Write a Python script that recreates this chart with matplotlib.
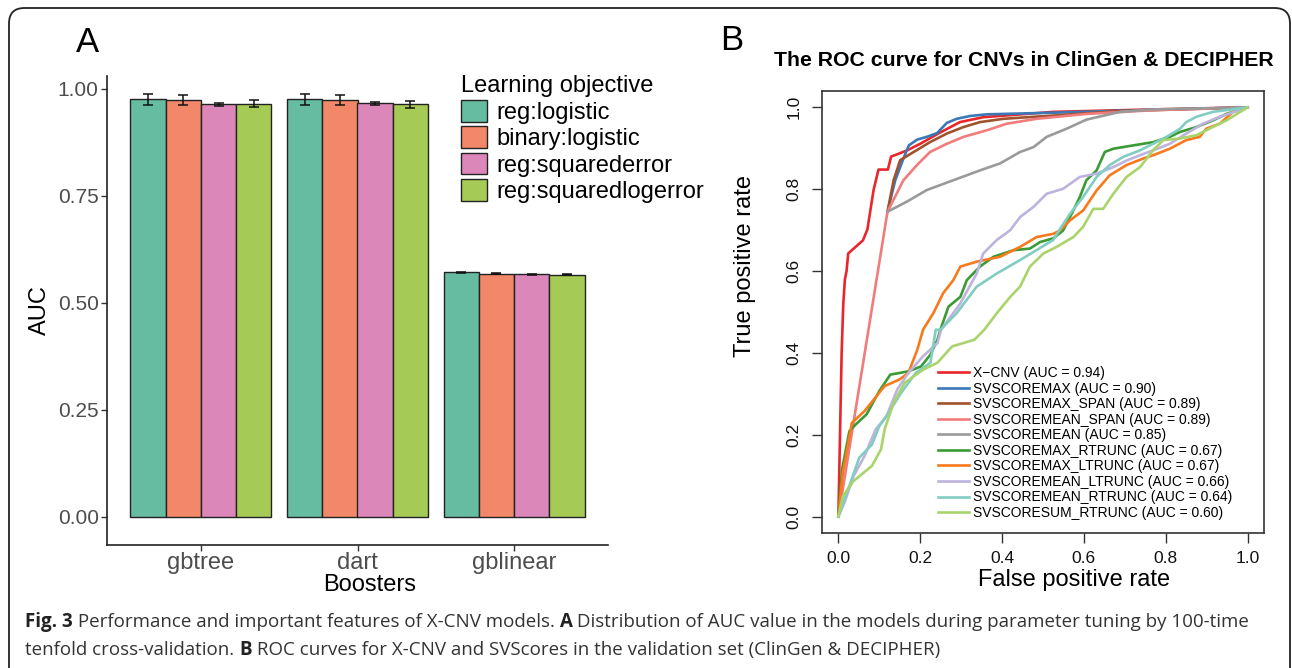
import matplotlib
matplotlib.use("Agg")
import matplotlib.pyplot as plt
import numpy as np
from matplotlib.patches import FancyBboxPatch

W, H = 1292, 668

# ---- panel A data ----
boosters = ["gbtree", "dart", "gblinear"]
objectives = ["reg:logistic", "binary:logistic", "reg:squarederror", "reg:squaredlogerror"]
auc_mean = {
    "reg:logistic":        [0.976, 0.976, 0.572],
    "binary:logistic":     [0.974, 0.974, 0.568],
    "reg:squarederror":    [0.964, 0.966, 0.567],
    "reg:squaredlogerror": [0.965, 0.964, 0.566],
}
auc_err = {
    "reg:logistic":        [0.013, 0.013, 0.001],
    "binary:logistic":     [0.012, 0.012, 0.001],
    "reg:squarederror":    [0.004, 0.003, 0.001],
    "reg:squaredlogerror": [0.008, 0.008, 0.001],
}
obj_colors = ["#66bca1", "#f2876a", "#dc87b9", "#a6ca56"]

# ---- panel B data ----
roc_names = ["X\u2212CNV", "SVSCOREMAX", "SVSCOREMAX_SPAN", "SVSCOREMEAN_SPAN",
             "SVSCOREMEAN", "SVSCOREMAX_RTRUNC", "SVSCOREMAX_LTRUNC",
             "SVSCOREMEAN_LTRUNC", "SVSCOREMEAN_RTRUNC", "SVSCORESUM_RTRUNC"]
roc_auc = ["0.94", "0.90", "0.89", "0.89", "0.85", "0.67", "0.67", "0.66", "0.64", "0.60"]
roc_colors = ["#e8262b", "#3a78b8", "#a0522d", "#f27b7b", "#9a9a9a",
              "#3a9b34", "#f87a1c", "#bdb3de", "#82ccc2", "#a9d46c"]

fpr_xcnv = [0, 0.004, 0.008, 0.012, 0.016, 0.02, 0.024, 0.06, 0.071, 0.086, 0.098, 0.121,
            0.129, 0.143, 0.168, 0.2, 0.244, 0.297, 0.354, 0.525, 0.769, 1.0]
tpr_xcnv = [0, 0.2, 0.4, 0.52, 0.58, 0.6, 0.643, 0.675, 0.702, 0.798, 0.848, 0.848,
            0.88, 0.885, 0.895, 0.911, 0.936, 0.964, 0.976, 0.989, 0.995, 1.0]

fpr_max = [0.12, 0.139, 0.159, 0.172, 0.192, 0.216, 0.241, 0.265, 0.289, 0.322, 0.363, 0.525, 0.769, 1.0]
tpr_max = [0.745, 0.822, 0.875, 0.907, 0.921, 0.928, 0.937, 0.962, 0.972, 0.979, 0.983, 0.987, 0.994, 1.0]

fpr_max_span = [0.12, 0.135, 0.151, 0.184, 0.224, 0.265, 0.306, 0.346, 0.403, 0.525, 0.688, 1.0]
tpr_max_span = [0.745, 0.822, 0.871, 0.891, 0.915, 0.936, 0.952, 0.964, 0.972, 0.980, 0.991, 1.0]

fpr_mean_span = [0, 0.12, 0.159, 0.192, 0.224, 0.265, 0.306, 0.363, 0.411, 0.484, 0.606, 0.769, 1.0]
tpr_mean_span = [0, 0.745, 0.822, 0.859, 0.891, 0.911, 0.928, 0.944, 0.960, 0.972, 0.984, 0.993, 1.0]

fpr_mean = [0.12, 0.168, 0.216, 0.281, 0.346, 0.395, 0.444, 0.477, 0.509, 0.558, 0.606, 0.688, 0.769, 1.0]
tpr_mean = [0.745, 0.770, 0.798, 0.822, 0.846, 0.863, 0.891, 0.903, 0.928, 0.948, 0.970, 0.989, 0.995, 1.0]

fpr_max_rt = [0, 0.009, 0.027, 0.042, 0.069, 0.10, 0.127, 0.171, 0.202, 0.225, 0.242, 0.249,
              0.269, 0.298, 0.314, 0.346, 0.379, 0.428, 0.468, 0.493, 0.525, 0.549, 0.574,
              0.590, 0.606, 0.631, 0.651, 0.672, 0.720, 0.769, 0.810, 0.835, 0.875, 0.915, 0.948, 1.0]
tpr_max_rt = [0, 0.115, 0.209, 0.225, 0.25, 0.307, 0.347, 0.355, 0.367, 0.396, 0.432, 0.456,
              0.513, 0.537, 0.578, 0.611, 0.635, 0.651, 0.655, 0.671, 0.680, 0.699, 0.748,
              0.781, 0.822, 0.846, 0.891, 0.899, 0.907, 0.915, 0.928, 0.940, 0.952, 0.968, 0.984, 1.0]

fpr_max_lt = [0, 0.011, 0.033, 0.064, 0.113, 0.149, 0.171, 0.193, 0.207, 0.232, 0.256, 0.281,
              0.298, 0.338, 0.395, 0.444, 0.484, 0.525, 0.541, 0.566, 0.598, 0.631, 0.663,
              0.704, 0.745, 0.769, 0.810, 0.850, 0.883, 0.899, 0.932, 0.964, 1.0]
tpr_max_lt = [0, 0.107, 0.229, 0.258, 0.319, 0.335, 0.351, 0.408, 0.457, 0.497, 0.546, 0.578,
              0.611, 0.623, 0.635, 0.659, 0.683, 0.691, 0.699, 0.724, 0.748, 0.797, 0.834,
              0.859, 0.875, 0.883, 0.899, 0.920, 0.928, 0.948, 0.960, 0.989, 1.0]

fpr_mean_lt = [0, 0.015, 0.037, 0.064, 0.091, 0.118, 0.144, 0.171, 0.207, 0.242, 0.251, 0.298,
               0.338, 0.354, 0.387, 0.420, 0.444, 0.477, 0.509, 0.549, 0.590, 0.631, 0.672,
               0.704, 0.737, 0.769, 0.810, 0.850, 0.891, 0.932, 1.0]
tpr_mean_lt = [0, 0.034, 0.099, 0.148, 0.213, 0.246, 0.311, 0.351, 0.392, 0.424, 0.457, 0.521,
               0.594, 0.643, 0.676, 0.700, 0.732, 0.757, 0.789, 0.801, 0.830, 0.838, 0.854,
               0.870, 0.883, 0.895, 0.911, 0.936, 0.960, 0.977, 1.0]

fpr_mean_rt = [0, 0.024, 0.051, 0.082, 0.10, 0.118, 0.153, 0.189, 0.225, 0.238, 0.249, 0.289,
               0.338, 0.387, 0.444, 0.484, 0.525, 0.545, 0.566, 0.598, 0.631, 0.663, 0.696,
               0.737, 0.769, 0.802, 0.835, 0.850, 0.875, 0.915, 1.0]
tpr_mean_rt = [0, 0.067, 0.144, 0.176, 0.221, 0.246, 0.302, 0.351, 0.376, 0.457, 0.456, 0.497,
               0.562, 0.594, 0.627, 0.651, 0.676, 0.708, 0.740, 0.781, 0.830, 0.859, 0.879,
               0.895, 0.911, 0.928, 0.948, 0.964, 0.977, 0.989, 1.0]

fpr_sum_rt = [0, 0.011, 0.037, 0.082, 0.104, 0.113, 0.135, 0.162, 0.207, 0.242, 0.278, 0.332,
              0.356, 0.387, 0.420, 0.444, 0.468, 0.501, 0.533, 0.574, 0.598, 0.623, 0.647,
              0.672, 0.704, 0.737, 0.769, 0.794, 0.835, 0.875, 0.915, 0.948, 1.0]
tpr_sum_rt = [0, 0.05, 0.087, 0.124, 0.164, 0.213, 0.278, 0.327, 0.359, 0.376, 0.416, 0.432,
              0.456, 0.497, 0.537, 0.562, 0.611, 0.643, 0.659, 0.683, 0.708, 0.752, 0.752,
              0.789, 0.830, 0.854, 0.895, 0.920, 0.924, 0.932, 0.952, 0.968, 1.0]

roc_fpr = [fpr_xcnv, fpr_max, fpr_max_span, fpr_mean_span, fpr_mean,
           fpr_max_rt, fpr_max_lt, fpr_mean_lt, fpr_mean_rt, fpr_sum_rt]
roc_tpr = [tpr_xcnv, tpr_max, tpr_max_span, tpr_mean_span, tpr_mean,
           tpr_max_rt, tpr_max_lt, tpr_mean_lt, tpr_mean_rt, tpr_sum_rt]

SANS = ["Liberation Sans", "DejaVu Sans"]
plt.rcParams["font.family"] = SANS


def fx(x):
    return x / W


def fy(y):
    return 1 - y / H


fig = plt.figure(figsize=(W / 100, H / 100), dpi=100)

# rounded frame around the figure
frame = FancyBboxPatch((fx(9), fy(690)), fx(1290) - fx(9), fy(8) - fy(690),
                       boxstyle="round,pad=0,rounding_size=0.012",
                       transform=fig.transFigure, fill=False,
                       edgecolor="#222222", linewidth=1.3, mutation_aspect=W / H)
fig.patches.append(frame)

# ---------------- panel A ----------------
axA = fig.add_axes([fx(107), fy(545), fx(608) - fx(107), fy(76) - fy(545)])
x = np.arange(1, len(boosters) + 1)
bw = 0.9 / len(objectives)
for i, (obj, col) in enumerate(zip(objectives, obj_colors)):
    pos = x - 0.45 + bw * (i + 0.5)
    axA.bar(pos, auc_mean[obj], width=bw, color=col, edgecolor="#222222",
            linewidth=1.0, label=obj, zorder=2)
    axA.errorbar(pos, auc_mean[obj], yerr=auc_err[obj], fmt="none",
                 ecolor="#111111", elinewidth=1.1, capsize=3.5, capthick=1.1, zorder=3)

axA.set_xlim(0.4, 3.6)
axA.set_ylim(-0.0654, 1.03)
axA.set_yticks([0, 0.25, 0.5, 0.75, 1.0])
axA.set_yticklabels(["0.00", "0.25", "0.50", "0.75", "1.00"])
axA.set_xticks(x)
axA.set_xticklabels(boosters)
for s in ["top", "right"]:
    axA.spines[s].set_visible(False)
for s in ["left", "bottom"]:
    axA.spines[s].set_color("#222222")
    axA.spines[s].set_linewidth(1.2)
axA.tick_params(axis="both", colors="#333333", labelcolor="#4d4d4d",
                labelsize=15, length=4, width=1.0, pad=2)
axA.tick_params(axis="x", labelsize=17, pad=1)
axA.set_ylabel("AUC", fontsize=17, labelpad=5)
fig.text(fx(370), fy(585), "Boosters", fontsize=17, ha="center", va="center")

leg = axA.legend(title="Learning objective", loc="upper left",
                 bbox_to_anchor=(fx(452), fy(66)), bbox_transform=fig.transFigure,
                 frameon=False, fontsize=17, title_fontsize=17, handlelength=1.1,
                 handleheight=1.05, handletextpad=0.4, labelspacing=0.1, borderaxespad=0)
leg._legend_box.align = "left"

fig.text(fx(88), fy(42), "A", fontsize=25, ha="center", va="center")

# ---------------- panel B ----------------
axB = fig.add_axes([fx(822), fy(533), fx(1264) - fx(822), fy(91) - fy(533)])
for k in range(len(roc_names)):
    axB.plot(roc_fpr[k], roc_tpr[k], color=roc_colors[k], linewidth=1.9,
             solid_joinstyle="round", label=f"{roc_names[k]} (AUC = {roc_auc[k]})", zorder=2 + k * 0.01)
axB.set_xlim(-0.04, 1.04)
axB.set_ylim(-0.04, 1.04)
ticks = [0, 0.2, 0.4, 0.6, 0.8, 1.0]
axB.set_xticks(ticks)
axB.set_yticks(ticks)
axB.set_xticklabels([f"{t:.1f}" for t in ticks])
axB.set_yticklabels([f"{t:.1f}" for t in ticks], rotation=90, va="center")
for s in axB.spines.values():
    s.set_color("#333333")
    s.set_linewidth(1.2)
axB.tick_params(axis="both", direction="out", length=7, width=1.0, colors="#333333",
                labelcolor="#111111", labelsize=12.5)
axB.tick_params(axis="x", pad=6)
axB.tick_params(axis="y", pad=8)
axB.set_xlabel("False positive rate", fontsize=17)
axB.set_ylabel("True positive rate", fontsize=17)
axB.xaxis.set_label_coords((1074 - 822) / 442, -(580 - 533) / 442)
axB.yaxis.set_label_coords(-(822 - 745) / 442, (533 - 266) / 442)
axB.xaxis.label.set_va("center")
axB.yaxis.label.set_va("center")
fig.text(fx(1024), fy(61), "The ROC curve for CNVs in ClinGen & DECIPHER",
         fontsize=15.3, fontweight="bold", ha="center", va="center")
fig.text(fx(732), fy(40), "B", fontsize=25, ha="center", va="center")

axB.legend(loc="lower left", bbox_to_anchor=(0.25, 0.017), frameon=False,
           fontsize=10, handlelength=2.2, handletextpad=0.35, labelspacing=0.11,
           borderaxespad=0)

# ---------------- caption ----------------
CAP = ["Open Sans", "DejaVu Sans"]
cap_lines = [
    [("Fig. 3", "bold"), (" Performance and important features of X-CNV models. ", "normal"),
     ("A", "bold"), (" Distribution of AUC value in the models during parameter tuning by 100-time", "normal")],
    [("tenfold cross-validation. ", "normal"), ("B", "bold"),
     (" ROC curves for X-CNV and SVScores in the validation set (ClinGen & DECIPHER)", "normal")],
]
fig.canvas.draw()
renderer = fig.canvas.get_renderer()
for line, ypix in zip(cap_lines, [622, 650]):
    xpix = 25
    for txt, wt in line:
        t = fig.text(fx(xpix), fy(ypix), txt, fontsize=13.5, fontweight=wt,
                     family=CAP, color="#333333" if wt == "normal" else "#222222",
                     ha="left", va="center")
        bb = t.get_window_extent(renderer=renderer)
        xpix += bb.width

fig.savefig("out.png", dpi=100)
